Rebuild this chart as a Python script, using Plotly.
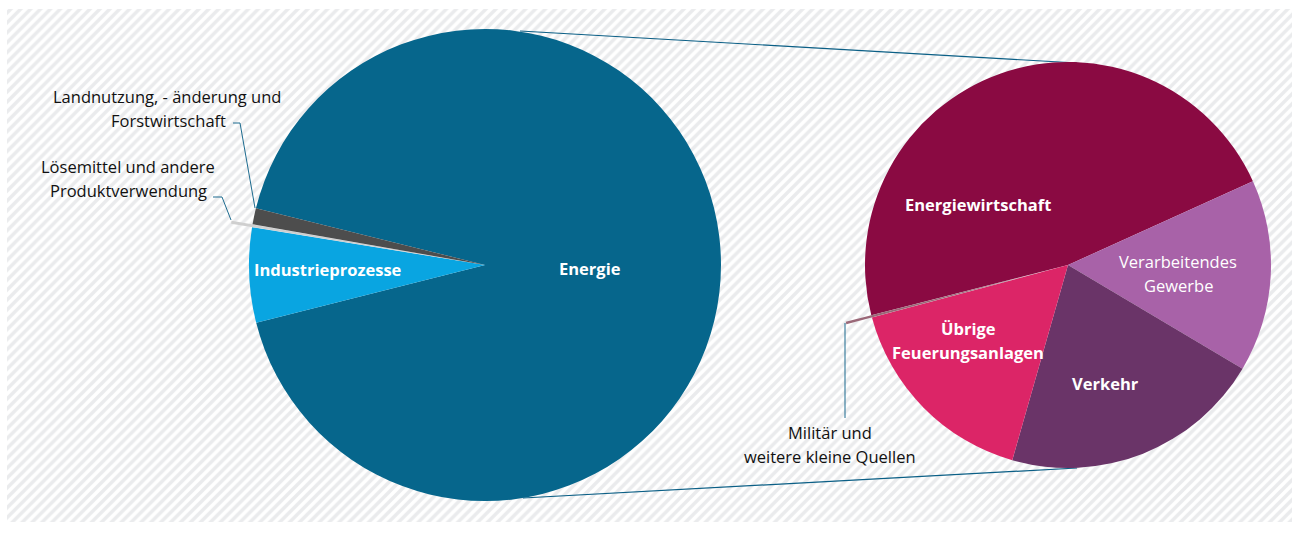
import plotly.graph_objects as go

# ---------------- data ----------------
sector_labels = ["Energie", "Industrieprozesse", "Lösemittel und andere Produktverwendung",
                 "Landnutzung, - änderung und Forstwirtschaft"]
sector_values = [92.2, 6.5, 0.2, 1.1]
sector_colors = ["#06668c", "#09a5e1", "#cfcfcf", "#4d4d4d"]
sector_pull = [0, 0, 0.09, 0]

energy_labels = ["Energiewirtschaft", "Verarbeitendes Gewerbe", "Verkehr",
                 "Übrige Feuerungsanlagen", "Militär und weitere kleine Quellen"]
energy_values = [47.2, 15.3, 20.9, 16.4, 0.2]
energy_colors = ["#8a0a42", "#a862a8", "#6a3468", "#dc2567", "#9a6878"]
energy_pull = [0, 0, 0, 0, 0.13]

W, H = 1298, 536
FONT = "Open Sans"


def domain(cx, cy, r, pull):
    half = r * (1 + pull)
    return dict(x=[(cx - half) / W, (cx + half) / W],
                y=[(H - cy - half) / H, (H - cy + half) / H])


fig = go.Figure()

# hatched background panel
fig.add_trace(go.Scatter(
    x=[7, 1292, 1292, 7, 7], y=[9, 9, 522, 522, 9], mode="lines",
    line=dict(width=0), fill="toself", fillcolor="rgba(0,0,0,0)",
    fillpattern=dict(shape="/", size=7, solidity=0.5, fgcolor="#d6d8db", bgcolor="#ffffff"),
    hoverinfo="skip", showlegend=False))

# connector lines between the pies
for xs, ys in [([520, 1077], [31, 63]), ([523, 1077], [498, 468])]:
    fig.add_trace(go.Scatter(x=xs, y=ys, mode="lines", line=dict(color="#0b5f86", width=1.2),
                             hoverinfo="skip", showlegend=False))

fig.add_trace(go.Pie(
    labels=sector_labels, values=sector_values, sort=False, direction="clockwise",
    rotation=-76.1, pull=sector_pull, textinfo="none", hoverinfo="label+percent",
    marker=dict(colors=sector_colors, line=dict(width=0)),
    domain=domain(485, 265, 236, max(sector_pull)), showlegend=False))

fig.add_trace(go.Pie(
    labels=energy_labels, values=energy_values, sort=False, direction="clockwise",
    rotation=-104.3, pull=energy_pull, textinfo="none", hoverinfo="label+percent",
    marker=dict(colors=energy_colors, line=dict(width=0)),
    domain=domain(1068, 265, 203, max(energy_pull)), showlegend=False))

# labels
labels = [
    ("Energie", 590, 268, "center", "white", True),
    ("Industrieprozesse", 328, 269, "center", "white", True),
    ("Energiewirtschaft", 978, 204, "center", "white", True),
    ("Verarbeitendes", 1178, 261, "center", "white", False),
    ("Gewerbe", 1178, 285, "center", "white", False),
    ("Übrige", 968, 328, "center", "white", True),
    ("Feuerungsanlagen", 968, 352, "center", "white", True),
    ("Verkehr", 1105, 383, "center", "white", True),
    ("Landnutzung, - änderung und", 283, 96, "right", "#111111", False),
    ("Forstwirtschaft", 228, 120, "right", "#111111", False),
    ("Lösemittel und andere", 128, 166, "center", "#111111", False),
    ("Produktverwendung", 128, 190, "center", "#111111", False),
    ("Militär und", 830, 432, "center", "#111111", False),
    ("weitere kleine Quellen", 830, 456, "center", "#111111", False),
]
for text, x, y, anchor, color, bold in labels:
    fig.add_annotation(
        x=x, y=y, xref="x", yref="y", text=f"<b>{text}</b>" if bold else text,
        showarrow=False, xanchor=anchor, yanchor="middle",
        font=dict(family=FONT, size=16.5, color=color))

# leader lines
for path in ["M 233 123 L 240 123 L 255 208",
             "M 213 197 L 222 197 L 231 220",
             "M 845 323 L 845 418"]:
    fig.add_shape(type="path", path=path, xref="x", yref="y",
                  line=dict(color="#1d6b8f", width=1), layer="above")

fig.update_layout(
    width=W, height=H, autosize=False, margin=dict(l=0, r=0, t=0, b=0),
    paper_bgcolor="white", plot_bgcolor="white",
    xaxis=dict(range=[0, W], visible=False, fixedrange=True),
    yaxis=dict(range=[H, 0], visible=False, fixedrange=True),
)

fig.write_html("out.html")
